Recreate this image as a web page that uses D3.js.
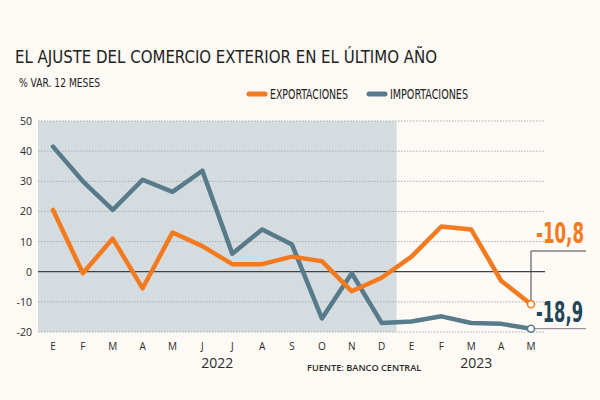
<!DOCTYPE html>
<html>
<head>
<meta charset="utf-8">
<script src="https://cdn.jsdelivr.net/npm/d3@7"></script>
<style>
  body { margin: 0; background: #fdf9f4; }
  svg { display: block; }
  .cond { font-family: "Liberation Sans Narrow", "DejaVu Sans Condensed", "Roboto", sans-serif; }
</style>
</head>
<body>
<div id="main"></div>
<script>
const ctx = { w: 600, h: 400 };

// data
const months = ["E","F","M","A","M","J","J","A","S","O","N","D","E","F","M","A","M"];
const exportaciones = [20.5, -0.5, 11, -5.5, 13, 8.5, 2.5, 2.5, 5, 3.5, -6.5, -2, 5, 15, 14, -3, -10.8];
const importaciones = [41.5, 30, 20.5, 30.5, 26.5, 33.5, 6, 14, 9, -15.5, -0.5, -17, -16.5, -14.8, -17, -17.3, -18.9];
const yTicks = [50, 40, 30, 20, 10, 0, -10, -20];
const years = [{ label: "2022", from: 0, to: 11 }, { label: "2023", from: 12, to: 16 }];

const orange = "#f47a20", blue = "#577b8b", dark = "#1f4658";

// squeeze a text horizontally so it fits a given width (condensed look)
function squeeze(sel, tx, ty, width) {
  const len = sel.node().getComputedTextLength();
  sel.attr("transform", `translate(${tx},${ty}) scale(${Math.min(1, width / len)},1)`);
}

function createViz() {
  const svg = d3.select("#main").append("svg")
      .attr("width", ctx.w).attr("height", ctx.h);

  svg.append("rect").attr("width", ctx.w).attr("height", ctx.h).attr("fill", "#fdf9f4");

  const x = d3.scaleLinear().domain([0, months.length - 1]).range([53, 531]);
  const y = d3.scaleLinear().domain([-20, 50]).range([332, 121]);
  const left = 38, right = 545;

  // shaded 2022 area
  svg.append("rect")
     .attr("x", left).attr("y", y(50))
     .attr("width", (x(11) + x(12)) / 2 - left)
     .attr("height", y(-20) - y(50))
     .attr("fill", "#d5dcdf");

  // grid
  svg.selectAll(".grid").data(yTicks.filter(d => d !== 0)).enter()
     .append("line")
     .attr("x1", left).attr("x2", right)
     .attr("y1", d => y(d)).attr("y2", d => y(d))
     .attr("stroke", "#a9aeb0").attr("stroke-width", 1)
     .attr("stroke-dasharray", "1.5,1.5");
  svg.append("line")
     .attr("x1", left).attr("x2", right)
     .attr("y1", y(0)).attr("y2", y(0))
     .attr("stroke", "#3c4246").attr("stroke-width", 1.2);

  // y labels
  svg.selectAll(".ytick").data(yTicks).enter()
     .append("text")
     .attr("x", 32).attr("y", d => y(d) + 4)
     .attr("text-anchor", "end")
     .attr("font-family", "Open Sans, sans-serif")
     .attr("font-size", 10.5).attr("fill", "#2b2b2b")
     .text(d => d);

  // x labels
  svg.selectAll(".xtick").data(months).enter()
     .append("text")
     .attr("x", (d, i) => x(i)).attr("y", 350)
     .attr("text-anchor", "middle")
     .attr("font-family", "Open Sans, sans-serif")
     .attr("font-size", 10).attr("fill", "#2b2b2b")
     .text(d => d);

  svg.selectAll(".year").data(years).enter()
     .append("text")
     .attr("x", d => (x(d.from) + x(d.to)) / 2 + (d.label === "2023" ? 5 : 0))
     .attr("y", 368)
     .attr("text-anchor", "middle")
     .attr("font-family", "Open Sans, sans-serif")
     .attr("font-size", 14).attr("fill", "#2b2b2b")
     .text(d => d.label);

  svg.append("text")
     .attr("x", 307).attr("y", 371)
     .attr("font-family", "Open Sans, sans-serif")
     .attr("font-size", 9.2).attr("font-weight", 600).attr("fill", "#2b2b2b")
     .text("FUENTE: BANCO CENTRAL");

  // lines
  const line = d3.line().x((d, i) => x(i)).y(d => y(d));
  svg.append("path").datum(importaciones)
     .attr("d", line).attr("fill", "none")
     .attr("stroke", blue).attr("stroke-width", 4.5)
     .attr("stroke-linejoin", "round").attr("stroke-linecap", "round");
  svg.append("path").datum(exportaciones)
     .attr("d", line).attr("fill", "none")
     .attr("stroke", orange).attr("stroke-width", 4.5)
     .attr("stroke-linejoin", "round").attr("stroke-linecap", "round");

  // end callouts
  const last = months.length - 1;
  const ex = x(last);
  svg.append("polyline")
     .attr("points", `${ex},${y(exportaciones[last])} ${ex},251 586,251`)
     .attr("fill", "none").attr("stroke", "#3c4246").attr("stroke-width", 1);
  svg.append("line")
     .attr("x1", ex).attr("x2", 586)
     .attr("y1", y(importaciones[last])).attr("y2", y(importaciones[last]))
     .attr("stroke", "#7d8387").attr("stroke-width", 1);

  svg.append("circle").attr("cx", ex).attr("cy", y(exportaciones[last])).attr("r", 3.5)
     .attr("fill", "#fff").attr("stroke", orange).attr("stroke-width", 1.5);
  svg.append("circle").attr("cx", ex).attr("cy", y(importaciones[last])).attr("r", 3.5)
     .attr("fill", "#fff").attr("stroke", blue).attr("stroke-width", 1.5);

  const fmt = v => String(v).replace(".", ",");
  const lab1 = svg.append("text").attr("class", "cond")
     .attr("text-anchor", "end")
     .attr("font-size", 28).attr("font-weight", "bold").attr("fill", orange)
     .text(fmt(exportaciones[last]));
  squeeze(lab1, 584, 243, 48);
  const lab2 = svg.append("text").attr("class", "cond")
     .attr("text-anchor", "end")
     .attr("font-size", 28).attr("font-weight", "bold").attr("fill", dark)
     .text(fmt(importaciones[last]));
  squeeze(lab2, 583, 322, 47);

  // title
  svg.append("text").attr("class", "cond")
     .attr("x", 15).attr("y", 63)
     .attr("font-size", 18).attr("fill", "#222")
     .attr("textLength", 422).attr("lengthAdjust", "spacingAndGlyphs")
     .text("EL AJUSTE DEL COMERCIO EXTERIOR EN EL ÚLTIMO AÑO");
  svg.append("text").attr("class", "cond")
     .attr("x", 19).attr("y", 87)
     .attr("font-size", 13).attr("fill", "#222")
     .attr("textLength", 81).attr("lengthAdjust", "spacingAndGlyphs")
     .text("% VAR. 12 MESES");

  // legend
  const legend = [
    { label: "EXPORTACIONES", color: orange, x: 247 },
    { label: "IMPORTACIONES", color: blue, x: 367 }
  ];
  const lg = svg.selectAll(".legend").data(legend).enter().append("g")
     .attr("transform", d => `translate(${d.x},94)`);
  lg.append("line").attr("x1", 2).attr("x2", 18).attr("y1", 0).attr("y2", 0)
     .attr("stroke", d => d.color).attr("stroke-width", 5).attr("stroke-linecap", "round");
  lg.append("text").attr("class", "cond")
     .attr("x", 23).attr("y", 5)
     .attr("font-size", 14).attr("fill", "#222")
     .attr("textLength", 78).attr("lengthAdjust", "spacingAndGlyphs")
     .text(d => d.label);
}

createViz();
</script>
</body>
</html>
